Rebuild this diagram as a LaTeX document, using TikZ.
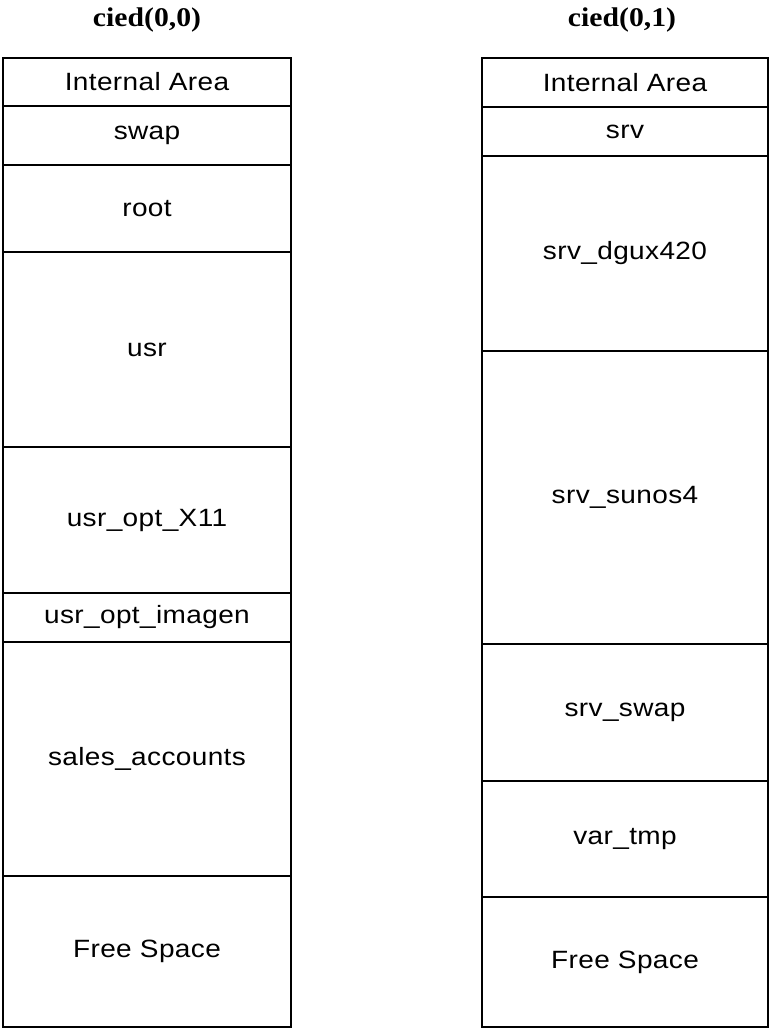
\documentclass[tikz,border=0pt]{standalone}
\usepackage{fontspec}
\setmainfont{Liberation Serif}
\newfontfamily\boxfont[FakeStretch=1.12,LetterSpace=1.5]{Liberation Sans}
\newfontfamily\headfont[FakeStretch=1.1]{Liberation Serif}
\begin{document}
\begin{tikzpicture}[x=1pt,y=-1pt,
  part/.style={draw=black,line width=1.3pt,inner sep=0pt,font=\boxfont\fontsize{25}{30}\selectfont},
  head/.style={inner sep=0pt,font=\headfont\bfseries\fontsize{27}{32}\selectfont}]
\useasboundingbox (0,0) rectangle (769,1029);
% left column
\node[head] (h0) at (147,20) {cied(0,0)};
\node[part,minimum width=288pt,minimum height=48pt] (l1) at (147,82) {Internal Area};
\node[part,minimum width=288pt,minimum height=59pt] (l2) at (147,135.5) {swap};
\node[part,minimum width=288pt,minimum height=87pt] (l3) at (147,208.5) {root};
\node[part,minimum width=288pt,minimum height=195pt] (l4) at (147,349.5) {usr};
\node[part,minimum width=288pt,minimum height=146pt] (l5) at (147,520) {usr\_opt\_X11};
\node[part,minimum width=288pt,minimum height=49pt] (l6) at (147,617.5) {usr\_opt\_imagen};
\node[part,minimum width=288pt,minimum height=234pt] (l7) at (147,759) {sales\_accounts};
\node[part,minimum width=288pt,minimum height=151pt] (l8) at (147,951.5) {Free Space};
% right column
\node[head] (h1) at (622,20) {cied(0,1)};
\node[part,minimum width=286pt,minimum height=49pt] (r1) at (625,82.5) {Internal Area};
\node[part,minimum width=286pt,minimum height=49pt] (r2) at (625,131.5) {srv};
\node[part,minimum width=286pt,minimum height=195pt] (r3) at (625,253.5) {srv\_dgux420};
\node[part,minimum width=286pt,minimum height=293pt] (r4) at (625,497.5) {srv\_sunos4};
\node[part,minimum width=286pt,minimum height=137pt] (r5) at (625,712.5) {srv\_swap};
\node[part,minimum width=286pt,minimum height=116pt] (r6) at (625,839) {var\_tmp};
\node[part,minimum width=286pt,minimum height=130pt] (r7) at (625,962) {Free Space};
\end{tikzpicture}
\end{document}
